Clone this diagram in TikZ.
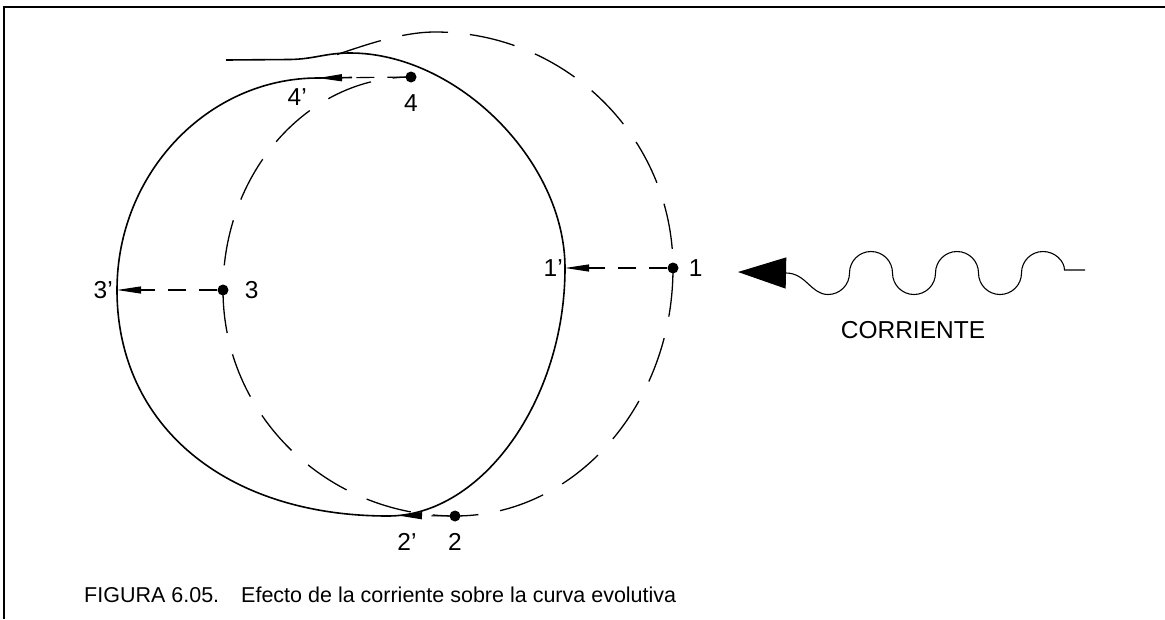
\documentclass[tikz,border=0pt]{standalone}
\usepackage{fontspec}
\setmainfont{Liberation Sans}
\usetikzlibrary{positioning,arrows.meta}

\begin{document}
\begin{tikzpicture}[x=1pt,y=-1pt,
dot/.style={circle,fill=black,inner sep=0pt,minimum size=11pt},
lbl/.style={font=\fontsize{24.5}{25}\selectfont,inner sep=0pt},
capt/.style={font=\fontsize{21.5}{24}\selectfont,inner sep=0pt},
track/.style={line width=1.6pt,line join=round},
nocur/.style={line width=1.3pt,dash pattern=on 46pt off 22pt},
drift/.style={line width=1.1pt,dash pattern=on 18pt off 13pt,-{Triangle[length=24pt,width=7pt]}},
cur/.style={line width=1.1pt,{Triangle[length=48pt,width=31pt]}-}]
\useasboundingbox (0,0) rectangle (1165,619);
\draw[line width=2.2pt] (4,619) -- (4,7) -- (1165,7);
\node[dot] (p1) at (673,268) {};
\node[dot] (p2) at (455,516) {};
\node[dot] (p3) at (223,290) {};
\node[dot] (p4) at (411,77) {};
\coordinate (q1) at (565,268);
\coordinate (q2) at (398,515.5);
\coordinate (q3) at (117,290);
\coordinate (q4) at (318,78);
\coordinate (s0) at (226,60);
\coordinate (s1) at (337,54.5);
\draw[track] (s0) -- (290,59.5) .. controls (315,59) and (325,53) .. (350,53)
  .. controls (457,53) and (565,161) .. (q1)
  .. controls (565,400) and (482,516) .. (388,516)
  .. controls (226,516) and (117,426) .. (q3)
  .. controls (117,173) and (208,78) .. (q4) -- (352,77.5);
\draw[nocur] (s1) .. controls (360,47) and (400,32) .. (435,32)
  .. controls (566,32) and (673,138) .. (p1.center)
  .. controls (673,405) and (575,516) .. (p2.center)
  .. controls (327,516) and (223,415) .. (p3.center)
  .. controls (223,173) and (307,77) .. (p4.center);
\draw[drift] (p1) -- (q1);
\draw[drift] (p2) -- (q2);
\draw[drift] (p3) -- (q3);
\draw[drift] (p4) -- (q4);
\node[lbl,right=10pt of p1] {1};
\node[lbl,below=11pt of p2] {2};
\node[lbl,right=16pt of p3] {3};
\node[lbl,below=12pt of p4] {4};
\node[lbl,left=2pt of q1] {1'};
\node[lbl,anchor=north] at (407,533) {2'};
\node[lbl,left=4pt of q3] {3'};
\node[lbl,below left=10pt and 11pt of q4] {4'};
\coordinate (ctip) at (738,272);
\coordinate (cend) at (1085,270);
\draw[cur] (ctip) -- (786,273) .. controls (806,273) and (811,294.5) .. (828,294.5)
  .. controls (839.9,294.5) and (849.5,284.9) .. (849.5,273)
  .. controls (849.5,261.1) and (859.1,251.5) .. (871,251.5)
  .. controls (882.9,251.5) and (892.5,261.1) .. (892.5,273)
  .. controls (892.5,284.9) and (902.1,294.5) .. (914,294.5)
  .. controls (925.9,294.5) and (935.5,284.9) .. (935.5,273)
  .. controls (935.5,261.1) and (945.1,251.5) .. (957,251.5)
  .. controls (968.9,251.5) and (978.5,261.1) .. (978.5,273)
  .. controls (978.5,284.9) and (988.1,294.5) .. (1000,294.5)
  .. controls (1011.9,294.5) and (1021.5,284.9) .. (1021.5,273)
  .. controls (1021.5,261.1) and (1031.1,251.5) .. (1043,251.5)
  .. controls (1054.9,251.5) and (1064.5,261.1) .. (1064.5,270) -- (cend);
\node[lbl] (crr) at (913,330) {CORRIENTE};
\node[capt,anchor=base west] (fig) at (84,602) {FIGURA 6.05.\hspace{22pt}Efecto de la corriente sobre la curva evolutiva};
\end{tikzpicture}
\end{document}
